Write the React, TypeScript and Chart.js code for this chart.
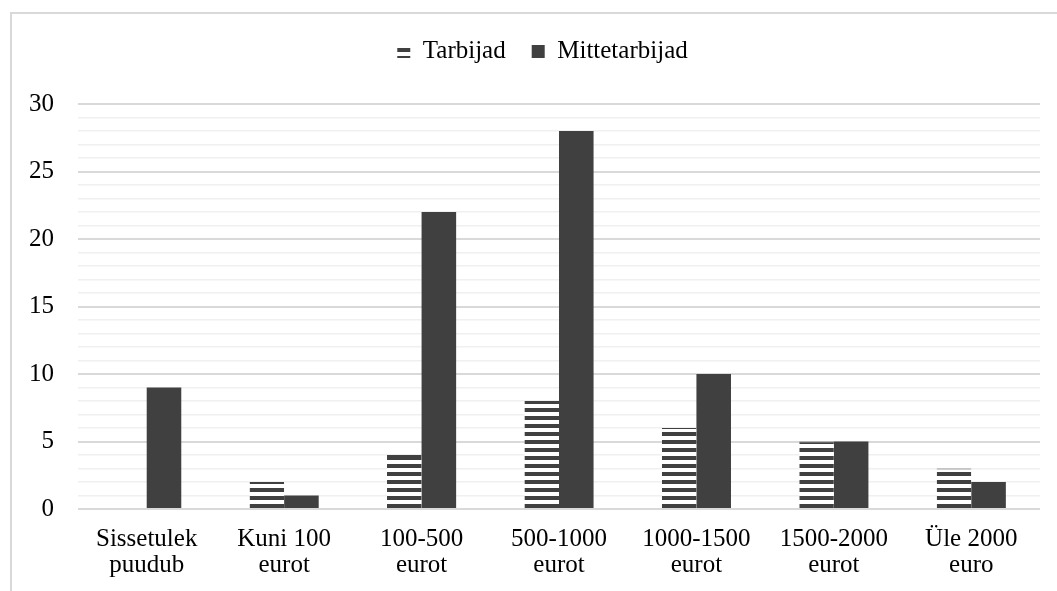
import React, { useEffect, useRef } from "react";
import { Chart, registerables } from "chart.js";

Chart.register(...registerables);

const categories: string[][] = [
  ["Sissetulek", "puudub"],
  ["Kuni 100", "eurot"],
  ["100-500", "eurot"],
  ["500-1000", "eurot"],
  ["1000-1500", "eurot"],
  ["1500-2000", "eurot"],
  ["Üle 2000", "euro"],
];
const tarbijad: number[] = [0, 2, 4, 8, 6, 5, 3];
const mittetarbijad: number[] = [9, 1, 22, 28, 10, 5, 2];
const seriesNames: string[] = ["Tarbijad", "Mittetarbijad"];

const DARK = "#404040";
const FONT = "'Liberation Serif', 'Times New Roman', serif";

function makeStripe(): CanvasPattern | string {
  const c = document.createElement("canvas");
  c.width = 8;
  c.height = 8;
  const g = c.getContext("2d");
  if (!g) return DARK;
  g.fillStyle = "#ffffff";
  g.fillRect(0, 0, 8, 8);
  g.fillStyle = DARK;
  g.fillRect(0, 0, 8, 4);
  const p = g.createPattern(c, "repeat");
  return p || DARK;
}

const legendTweak = {
  id: "legendTweak",
  beforeInit(chart: any) {
    const lg = chart.legend;
    if (!lg) return;
    const orig = lg.fit;
    lg.fit = function () {
      orig.call(this);
      this.height += 30;
    };
  },
  afterUpdate(chart: any) {
    const lg = chart.legend;
    if (!lg) return;
    lg.left += 20;
    lg.right += 20;
  },
};

export default function App() {
  const ref = useRef<HTMLCanvasElement | null>(null);
  useEffect(() => {
    if (!ref.current) return;
    const stripe = makeStripe();
    const chart = new Chart(ref.current, {
      type: "bar",
      data: {
        labels: categories,
        datasets: [
          {
            label: seriesNames[0],
            data: tarbijad,
            backgroundColor: stripe as any,
            borderColor: DARK,
            borderWidth: { top: 1, left: 0, right: 0, bottom: 0 },
            borderSkipped: "bottom",
          },
          {
            label: seriesNames[1],
            data: mittetarbijad,
            backgroundColor: DARK,
            borderWidth: 0,
          },
        ],
      },
      plugins: [legendTweak],
      options: {
        animation: false,
        responsive: false,
        maintainAspectRatio: false,
        layout: { padding: { left: 5, right: 17, top: 13, bottom: -5 } },
        datasets: { bar: { categoryPercentage: 0.503, barPercentage: 1 } },
        plugins: {
          tooltip: { enabled: false },
          legend: {
            position: "top",
            labels: {
              boxWidth: 13,
              boxHeight: 13,
              padding: 26,
              color: "#000",
              font: { family: FONT, size: 25 },
              generateLabels: (chart: any) =>
                chart.data.datasets.map((ds: any, i: number) => ({
                  text: ds.label,
                  fillStyle: ds.backgroundColor,
                  strokeStyle: ds.backgroundColor,
                  lineWidth: 0,
                  hidden: false,
                  datasetIndex: i,
                  fontColor: "#000",
                })),
            },
          },
        },
        scales: {
          x: {
            grid: { display: false, drawTicks: false },
            border: { display: false },
            ticks: {
              color: "#000",
              padding: 17,
              maxRotation: 0,
              autoSkip: false,
              font: { family: FONT, size: 25, lineHeight: 1.06 },
            },
          },
          y: {
            min: 0,
            max: 30,
            grid: {
              drawTicks: false,
              color: (ctx: any) =>
                ctx.tick && ctx.tick.value % 5 === 0 ? "#d9d9d9" : "#f0f0f0",
              lineWidth: (ctx: any) =>
                ctx.tick && ctx.tick.value % 5 === 0 ? 2 : 1.5,
            },
            border: { display: false },
            ticks: {
              stepSize: 1,
              color: "#000",
              padding: 24,
              autoSkip: false,
              font: { family: FONT, size: 25 },
              callback: (v: any) => (Number(v) % 5 === 0 ? String(v) : ""),
            },
          },
        },
      },
    });
    return () => chart.destroy();
  }, []);

  return (
    <div
      style={{
        position: "fixed",
        left: 0,
        top: 0,
        width: 1057,
        height: 591,
        overflow: "hidden",
        background: "#fff",
      }}
    >
      <div
        style={{
          position: "absolute",
          left: 10,
          top: 12,
          width: 1100,
          height: 700,
          border: "2px solid #d9d9d9",
          boxSizing: "border-box",
        }}
      />
      <canvas
        ref={ref}
        width={1057}
        height={591}
        style={{ position: "absolute", left: 0, top: 0, width: 1057, height: 591 }}
      />
    </div>
  );
}
